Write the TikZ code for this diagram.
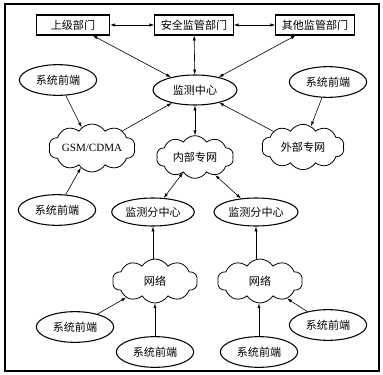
\documentclass[tikz,border=0pt]{standalone}
\usepackage{fontspec}
\setmainfont{Liberation Serif}
\newfontfamily\cjk{Noto Sans CJK SC}
\usetikzlibrary{arrows.meta,shapes.geometric,shapes.symbols}
\tikzset{dept/.style={draw,line width=.8pt,minimum width=55pt,minimum height=15pt,inner xsep=4.5pt,inner ysep=0pt},
 oval/.style={ellipse,draw,line width=.8pt,inner sep=0pt},
 frontend/.style={oval,minimum width=58pt,minimum height=23pt},
 net/.style={cloud,draw,line width=.6pt,cloud puffs=10,cloud puff arc=115,cloud ignores aspect,inner sep=0pt},
 arrow/.style={-{Latex[length=3.6pt,width=2.4pt]},line width=.45pt},
 twoway/.style={{Latex[length=3.6pt,width=2.4pt]}-{Latex[length=3.6pt,width=2.4pt]},line width=.45pt}}

\begin{document}
\begin{tikzpicture}[x=.75pt,y=-.75pt,font=\fontsize{8.3}{10}\selectfont]
 \useasboundingbox (0,0) rectangle (383,375);
 \draw[line width=.9pt] (5,4) rectangle (379,371);
 % departments
 \node[dept] (upper) at (73,25) {\cjk 上级部门};
 \node[dept] (safety) at (194,25) {\cjk 安全监管部门};
 \node[dept] (other) at (315,25) {\cjk 其他监管部门};
 \node[oval,minimum width=63pt,minimum height=22.5pt] (center) at (195,90) {\cjk 监测中心};
 % networks
 \node[net,minimum width=65pt,minimum height=36pt] (gsm) at (92,148) {GSM/CDMA};
 \node[net,minimum width=58pt,minimum height=32pt] (inner) at (195,157) {\cjk 内部专网};
 \node[net,minimum width=62pt,minimum height=34pt] (outer) at (303,147) {\cjk 外部专网};
 \node[oval,minimum width=62pt,minimum height=21pt] (sub1) at (153,212) {\cjk 监测分中心};
 \node[oval,minimum width=63pt,minimum height=21pt] (sub2) at (256,212) {\cjk 监测分中心};
 \node[net,minimum width=64pt,minimum height=33pt] (lan1) at (155,281) {\cjk 网络};
 \node[net,minimum width=64pt,minimum height=33pt] (lan2) at (260,281) {\cjk 网络};
 % front ends
 \foreach \n/\x/\y in {feA/58/80,feB/328/82,feC/57/210,feD/75/327,feE/155/352,feF/259/352,feG/328/325}
  \node[frontend] (\n) at (\x,\y) {\cjk 系统前端};
 % connectors
 \draw[twoway] (upper) -- (safety);
 \draw[twoway] (safety) -- (other);
 \draw[twoway] (upper) -- (center);
 \draw[twoway] (safety) -- (center);
 \draw[twoway] (other) -- (center);
 \draw[arrow] (feA) -- (gsm);
 \draw[arrow] (feB) -- (outer);
 \draw[arrow] (gsm) -- (center);
 \draw[arrow] (outer) -- (center);
 \draw[twoway] (inner) -- (center);
 \draw[arrow] (feC) -- (gsm);
 \draw[twoway] (inner) -- (sub1);
 \draw[twoway] (inner) -- (sub2);
 \draw[arrow] (lan1.north -| sub1) -- (sub1);
 \draw[arrow] (lan2.north -| sub2) -- (sub2);
 \draw[arrow] (feD) -- (lan1);
 \draw[arrow] (feE) -- (lan1.south -| feE);
 \draw[arrow] (feF) -- (lan2.south -| feF);
 \draw[arrow] (feG) -- (lan2);
\end{tikzpicture}
\end{document}
